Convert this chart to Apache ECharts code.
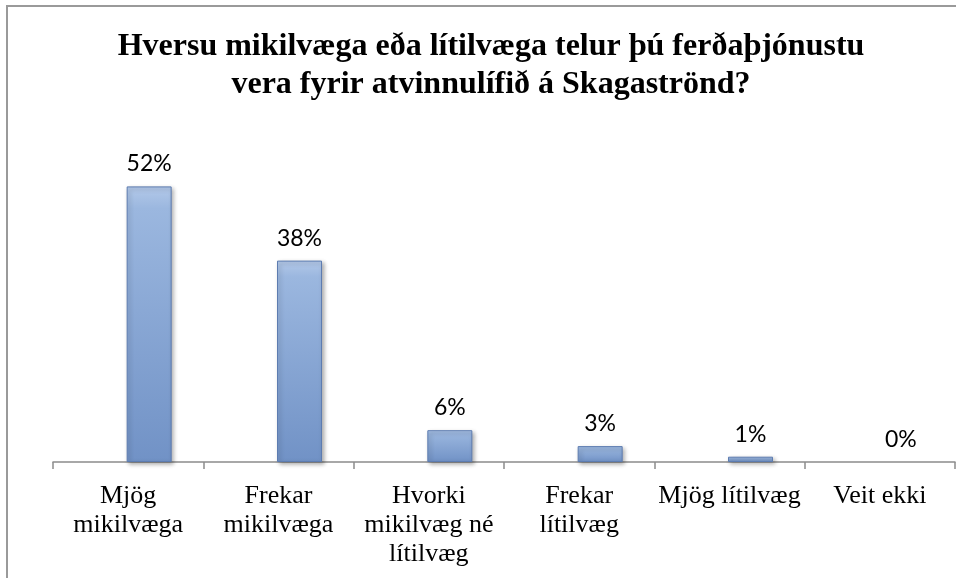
<!DOCTYPE html>
<html>
<head>
<meta charset="utf-8">
<script src="https://cdn.jsdelivr.net/npm/echarts@6/dist/echarts.min.js"></script>
<style>
  html, body { margin: 0; padding: 0; background: #fff; }
  #main { width: 956px; height: 578px; }
</style>
</head>
<body>
<div id="main"></div>
<script>
// survey answers, percent
var categories = [
  'Mjög\nmikilvæga',
  'Frekar\nmikilvæga',
  'Hvorki\nmikilvæg né\nlítilvæg',
  'Frekar\nlítilvæg',
  'Mjög lítilvæg',
  'Veit ekki'
]
var percents = [52, 38, 6, 3, 1, 0]
var titleText = 'Hversu mikilvæga eða lítilvæga telur þú ferðaþjónustu\nvera fyrir atvinnulífið á Skagaströnd?'

var chart = echarts.init(document.getElementById('main'))

// bars sit a bit right of the category centre in the original,
// an empty spacer series pushes them over
var spacer = categories.map(function () { return null })

var barStyle = {
  color: new echarts.graphic.LinearGradient(0, 0, 0, 1, [
    { offset: 0, color: '#b3c9e9' },
    { offset: 0.08, color: '#9bb7df' },
    { offset: 1, color: '#7192c6' }
  ]),
  borderColor: '#5d7cb0',
  borderWidth: 1,
  shadowColor: 'rgba(0,0,0,0.3)',
  shadowBlur: 4,
  shadowOffsetX: 2,
  shadowOffsetY: 2
}

// a 0% bar shows only its label
var barData = percents.map(function (v) {
  if (v === 0) {
    return { value: v, itemStyle: { borderWidth: 0, shadowBlur: 0, shadowOffsetX: 0, shadowOffsetY: 0 } }
  }
  return v
})

var option = {
  backgroundColor: '#fff',
  animation: false,
  title: {
    text: titleText,
    left: 486,
    top: 23,
    textAlign: 'center',
    textStyle: {
      fontFamily: 'Liberation Serif',
      fontWeight: 'bold',
      fontSize: 32,
      lineHeight: 38,
      color: '#000'
    }
  },
  graphic: [
    {
      type: 'rect',
      shape: { x: 7, y: 6, width: 1200, height: 1000 },
      style: { fill: 'none', stroke: '#9a9a9a', lineWidth: 2 },
      silent: true
    }
  ],
  grid: {
    left: 53,
    right: 1,
    top: 144,
    bottom: 116
  },
  xAxis: {
    type: 'category',
    data: categories,
    axisLine: { lineStyle: { color: '#8c8c8c', width: 1.5 } },
    axisTick: { show: true, length: 7, lineStyle: { color: '#8c8c8c', width: 1.5 } },
    axisLabel: {
      interval: 0,
      margin: 20,
      fontFamily: 'Liberation Serif',
      fontSize: 26,
      lineHeight: 29,
      color: '#000'
    }
  },
  yAxis: {
    type: 'value',
    min: 0,
    max: 60,
    show: false,
    splitLine: { show: false }
  },
  series: [
    {
      type: 'bar',
      data: spacer,
      barWidth: 42,
      barGap: '0%',
      silent: true
    },
    {
      type: 'bar',
      data: barData,
      barWidth: 45,
      itemStyle: barStyle,
      label: {
        show: true,
        position: 'top',
        distance: 11,
        formatter: '{c}%',
        fontFamily: 'Lato',
        fontSize: 23,
        color: '#000'
      }
    }
  ]
}

chart.setOption(option)
</script>
</body>
</html>
